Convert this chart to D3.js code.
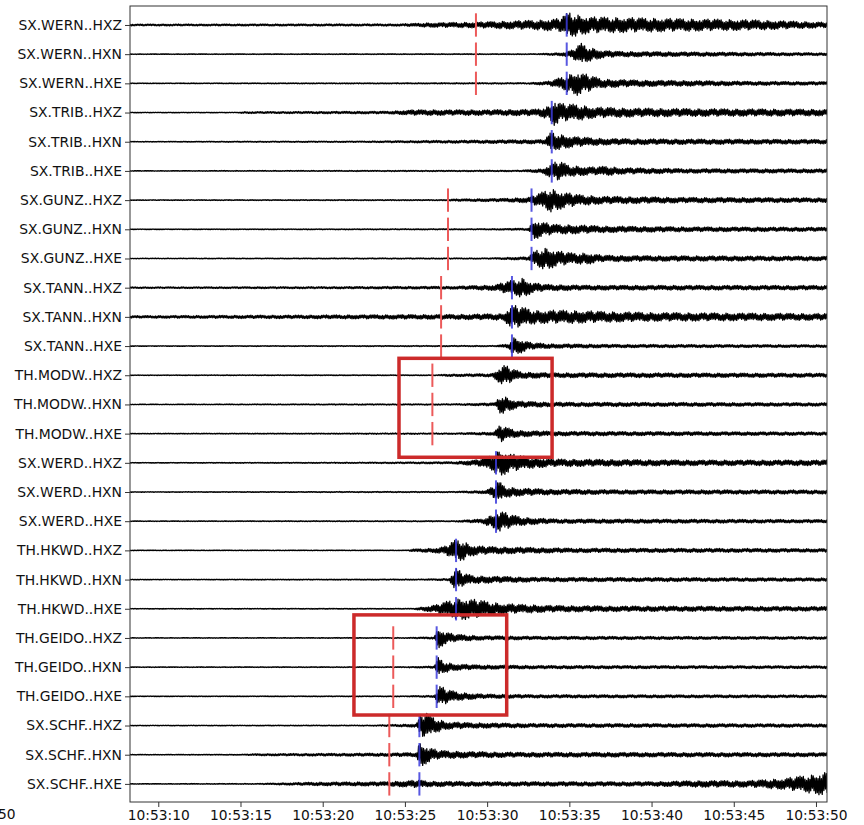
<!DOCTYPE html>
<html>
<head>
<meta charset="utf-8">
<script src="https://cdn.jsdelivr.net/npm/d3@7"></script>
<style>
  html, body { margin: 0; padding: 0; background: #fff; }
  svg { display: block; font-family: "DejaVu Sans", sans-serif; }
</style>
</head>
<body>
<svg id="chart" width="864" height="825"></svg>
<script>
// ---------------- DATA ----------------
const stations = ["SX.WERN", "SX.TRIB", "SX.GUNZ", "SX.TANN", "TH.MODW", "SX.WERD", "TH.HKWD", "TH.GEIDO", "SX.SCHF"];
const components = ["HXZ", "HXN", "HXE"];
// seconds after 10:53:00
const timeStart = 8.28, timeEnd = 50.67;
const tickSeconds = [10, 15, 20, 25, 30, 35, 40, 45, 50];
// theoretical P arrivals (red dashed) per station, null = none
const theoreticalP = [29.32, null, 27.62, 27.20, 26.67, null, null, 24.29, 24.05];
// picked P arrivals (blue) per station, null = none
const pickedP = [34.84, 33.93, 32.70, 31.51, null, 30.54, 28.11, 26.93, 25.88];
// highlighted groups: [tFrom, tTo, traceFrom, traceTo]
const highlightBoxes = [
  [24.64, 33.95, 11.42, 14.81],
  [21.90, 31.19, 20.21, 23.64]
];
// amplitude envelopes: [seconds, relative amplitude]
const envelopes = [
  // SX.WERN
  [[8.3,0.8],[24.7,1.0],[26.5,2],[29,2.5],[31,3.5],[33.2,4.5],[34.4,6],[35,12],[35.6,9],[36.3,7.5],[39.3,6.5],[43,5.5],[46.6,4.5],[48.4,3.5],[50.7,2.5]],
  [[8.3,0.3],[33,0.4],[34.6,1.5],[35.2,4],[35.7,10],[36.3,6],[37,3.5],[38,2.5],[42,2],[50.7,1.2]],
  [[8.3,0.3],[32.5,0.6],[33.8,2],[34.8,7],[35.5,11],[36.3,7],[37,4],[39,3],[42,2.5],[46,1.8],[50.7,1.5]],
  // SX.TRIB
  [[8.3,0.3],[14.8,0.3],[15.2,0.8],[24,1.2],[25.5,2.5],[30,2.5],[33,3],[33.8,6],[34.1,12],[34.6,8],[35.4,7.5],[36.5,5],[39,4],[43,3.5],[50.7,3]],
  [[8.3,0.3],[22,0.6],[30,1.5],[33.5,2],[33.9,9],[34.5,6.5],[35.5,4.5],[37,3],[40,2.5],[50.7,2]],
  [[8.3,0.3],[32,0.6],[33.4,2],[33.9,7],[34.4,9],[35,5],[36.5,3.5],[37.3,4.5],[38,3],[42,2],[50.7,1.8]],
  // SX.GUNZ
  [[8.3,0.3],[27.5,0.5],[28,1],[31,1.5],[32.5,2.5],[33.3,7],[33.8,11],[34.5,8],[35.5,5],[37,3.5],[42,2.5],[50.7,2]],
  [[8.3,0.3],[30,0.5],[32.5,1],[32.9,9],[33.3,7],[34,4.5],[35.5,4],[37,3],[42,2.2],[50.7,1.8]],
  [[8.3,0.3],[30,0.5],[32.5,1.5],[33,8],[33.6,10],[34.3,7],[35.2,5],[36.2,5],[37,3],[40,2.5],[50.7,2]],
  // SX.TANN
  [[8.3,0.7],[20,0.9],[28,1.3],[30.4,2.5],[31.6,7],[32.2,9],[32.7,5],[33.5,3],[36,2.2],[50.7,2]],
  [[8.3,1.1],[20,1.7],[28,2.2],[31,3],[31.5,11],[32.1,9],[33,6],[35,6],[37,5],[40,4],[50.7,3]],
  [[8.3,0.3],[30.5,0.5],[31.3,2],[31.6,8],[32.1,6],[32.7,3],[34,2],[38,1.5],[50.7,1.2]],
  // TH.MODW
  [[8.3,0.3],[27,0.4],[27.5,1],[30.3,1.5],[30.6,5],[31.0,10],[31.5,6],[32.1,3],[34,2.2],[50.7,1.8]],
  [[8.3,0.3],[28,0.6],[30.5,1.5],[30.8,9],[31.3,6],[31.9,3],[34,2],[50.7,1.5]],
  [[8.3,0.3],[28,0.6],[30.4,1.5],[30.8,8],[31.3,5],[31.9,3],[34,2],[50.7,1.5]],
  // SX.WERD
  [[8.3,0.3],[22,0.5],[28,1],[29.5,3],[30.4,8],[30.8,12],[31.5,8],[32.7,5],[34,3.5],[38,3],[43,2.5],[50.7,2.5]],
  [[8.3,0.3],[28,0.5],[29.9,1.5],[30.5,6],[30.7,10],[31.1,5],[32,3.5],[34,2.5],[38,2],[50.7,1.8]],
  [[8.3,0.3],[28,0.5],[29.7,2],[30.5,7],[30.8,10],[31.4,6],[32.3,3.5],[34,2],[50.7,1.5]],
  // TH.HKWD
  [[8.3,0.3],[25.2,0.3],[25.4,1.2],[26.8,2],[27.5,4],[28,9],[28.4,10],[29,5],[30,3.5],[31.5,3],[35,2],[50.7,1.6]],
  [[8.3,0.3],[26,0.5],[27.7,1],[28.1,11],[28.5,6],[29.2,3.5],[30.5,3],[33,2],[50.7,1.5]],
  [[8.3,0.3],[25.5,0.4],[26,1.5],[27,4],[27.8,8],[28.5,10],[29.5,8],[30.8,5],[32,4],[34,3],[38,2.5],[50.7,2]],
  // TH.GEIDO
  [[8.3,0.3],[25,0.4],[26.8,1],[27,10],[27.4,6],[28,3.5],[29.5,2],[33,1.5],[50.7,1.2]],
  [[8.3,0.3],[25,0.4],[26.8,1],[27,9],[27.4,5],[28,3],[29.5,2],[33,1.5],[50.7,1.2]],
  [[8.3,0.3],[25,0.4],[26.8,1],[27.1,10],[27.6,6],[28.4,3.5],[29.8,2],[33,1.5],[50.7,1.2]],
  // SX.SCHF
  [[8.3,0.3],[23,0.4],[25.7,1.5],[25.9,9],[26.3,12],[26.8,7],[27.5,3.5],[29,2.5],[33,1.8],[50.7,1.5]],
  [[8.3,0.3],[15,0.4],[16,0.9],[24,1.5],[25.7,2],[25.9,12],[26.3,8],[27,4],[28.5,3],[32,2.2],[50.7,1.8]],
  [[8.3,0.3],[16,0.4],[17.5,0.9],[19.5,1.6],[24,2],[25.9,3.5],[26.5,2.5],[30,2],[40,2],[43,3],[46,3],[48,5],[49,7],[50,9],[50.7,12]]
];
// fixed wiggle pattern used to draw the oscillation inside each envelope
const wiggle = [0.95,0.6,0.85,0.5,1.0,0.7,0.8,0.45,0.9,0.75,0.55,0.9,0.4,0.8,0.65,1.0,0.5,0.75,0.95,0.45,0.85,0.7,0.6];

// ---------------- LAYOUT ----------------
const svg = d3.select("#chart");
const pLeft = 130, pRight = 827, pTop = 6, pBottom = 802;
const base = Date.UTC(2021, 0, 1, 10, 53, 0);
const toDate = s => new Date(base + s * 1000);

const x = d3.scaleUtc().domain([toDate(timeStart), toDate(timeEnd)]).range([pLeft, pRight]);
const y = d3.scaleLinear().domain([-0.65, 26.62]).range([pTop, pBottom]);
const gain = 1.1 * (y(1) - y(0)) / 29.2; // one amplitude unit

const labels = [];
stations.forEach(s => components.forEach(c => labels.push(s + ".." + c)));

svg.append("defs").append("clipPath").attr("id", "clip")
  .append("rect").attr("x", pLeft).attr("y", pTop).attr("width", pRight - pLeft).attr("height", pBottom - pTop);

const plot = svg.append("g").attr("clip-path", "url(#clip)");

// waveforms
const dt = 0.05;
envelopes.forEach((env, i) => {
  const envScale = d3.scaleLinear().domain(env.map(d => d[0])).range(env.map(d => d[1])).clamp(true);
  const pts = [];
  let k = 0;
  for (let t = timeStart - 0.1; t <= timeEnd + 0.1; t += dt, k++) {
    const a = envScale(t) * wiggle[(k + i * 5) % wiggle.length] * (k % 2 ? 1 : -1);
    pts.push([x(toDate(t)), y(i) - a * gain]);
  }
  plot.append("path")
    .attr("d", d3.line()(pts))
    .attr("fill", "none")
    .attr("stroke", "#000")
    .attr("stroke-width", 1.3)
    .attr("stroke-linejoin", "round");
});

// arrival markers
const half = 0.4;
stations.forEach((s, si) => {
  components.forEach((c, ci) => {
    const i = si * 3 + ci;
    if (theoreticalP[si] != null) {
      plot.append("line")
        .attr("x1", x(toDate(theoreticalP[si]))).attr("x2", x(toDate(theoreticalP[si])))
        .attr("y1", y(i - half)).attr("y2", y(i + half))
        .attr("stroke", "#ec5a5a").attr("stroke-width", 2);
    }
    if (pickedP[si] != null) {
      plot.append("line")
        .attr("x1", x(toDate(pickedP[si]))).attr("x2", x(toDate(pickedP[si])))
        .attr("y1", y(i - half)).attr("y2", y(i + half))
        .attr("stroke", "#3c3cdc").attr("stroke-width", 2).attr("opacity", 0.85);
    }
  });
});

// frame
svg.append("rect").attr("x", pLeft).attr("y", pTop).attr("width", pRight - pLeft).attr("height", pBottom - pTop)
  .attr("fill", "none").attr("stroke", "#333").attr("stroke-width", 1);

// y axis labels
const yAxis = d3.axisLeft(y).tickValues(d3.range(labels.length)).tickFormat(i => labels[i]).tickSize(5).tickPadding(3);
const gy = svg.append("g").attr("transform", `translate(${pLeft},0)`).call(yAxis);
gy.select(".domain").remove();
gy.selectAll("text").attr("font-size", "13.9px").attr("font-family", "DejaVu Sans").attr("fill", "#111");
gy.selectAll("line").attr("stroke", "#333");

// x axis
const xAxis = d3.axisBottom(x).tickValues(tickSeconds.map(toDate)).tickFormat(d3.utcFormat("%H:%M:%S")).tickSize(5).tickPadding(3);
const gx = svg.append("g").attr("transform", `translate(0,${pBottom})`).call(xAxis);
gx.select(".domain").remove();
gx.selectAll("text").attr("font-size", "13.8px").attr("font-family", "DejaVu Sans").attr("fill", "#111");
gx.selectAll("line").attr("stroke", "#333");

// partially visible leftover label at the far left edge (as in the reference)
svg.append("text").attr("x", -2).attr("y", 819).attr("font-size", "13.8px").attr("fill", "#111").text("50");

// highlight boxes
highlightBoxes.forEach(b => {
  svg.append("rect")
    .attr("x", x(toDate(b[0]))).attr("y", y(b[2]))
    .attr("width", x(toDate(b[1])) - x(toDate(b[0])))
    .attr("height", y(b[3]) - y(b[2]))
    .attr("fill", "none").attr("stroke", "#cc2a2a").attr("stroke-width", 3.5);
});
</script>
</body>
</html>
